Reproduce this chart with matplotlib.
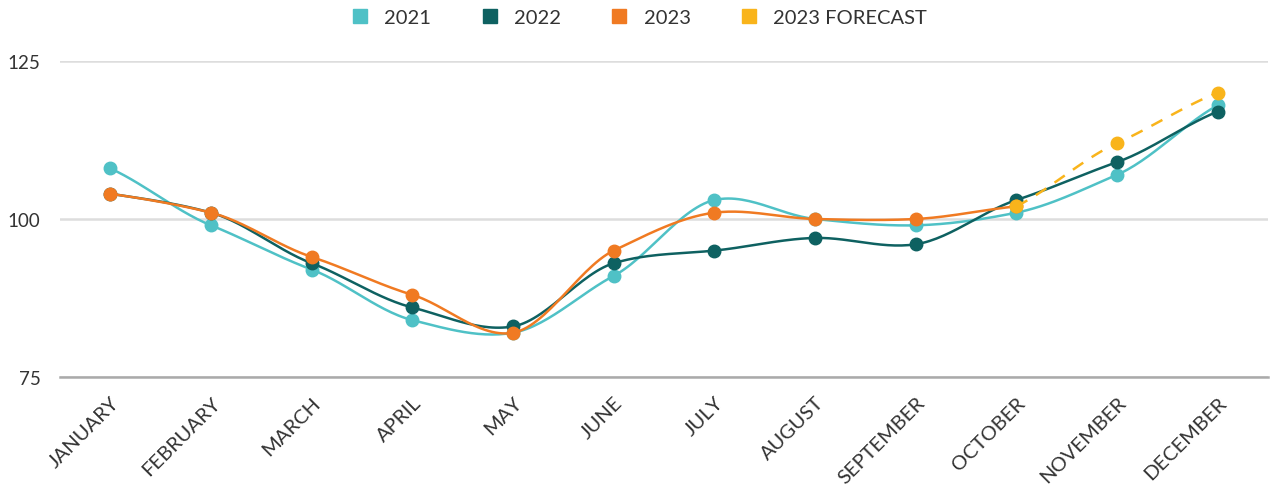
import numpy as np
import matplotlib.pyplot as plt
from matplotlib.lines import Line2D

months = ['JANUARY', 'FEBRUARY', 'MARCH', 'APRIL', 'MAY', 'JUNE', 'JULY',
          'AUGUST', 'SEPTEMBER', 'OCTOBER', 'NOVEMBER', 'DECEMBER']
y2021 = [108, 99, 92, 84, 82, 91, 103, 100, 99, 101, 107, 118]
y2022 = [104, 101, 93, 86, 83, 93, 95, 97, 96, 103, 109, 117]
y2023 = [104, 101, 94, 88, 82, 95, 101, 100, 100, 102]
forecast_months = ['OCTOBER', 'NOVEMBER', 'DECEMBER']
y2023_forecast = [102, 112, 120]
yticks = [75, 100, 125]

c2021 = '#4fc1c6'
c2022 = '#0e6161'
c2023 = '#f07a22'
cfore = '#f9b41b'


def smooth(x, y, n=30, t=0.8):
    # cardinal spline through points
    x = np.asarray(x, float)
    y = np.asarray(y, float)
    m = np.zeros_like(y)
    m[1:-1] = (y[2:] - y[:-2]) / (x[2:] - x[:-2]) * t
    m[0] = (y[1] - y[0]) / (x[1] - x[0]) * t
    m[-1] = (y[-1] - y[-2]) / (x[-1] - x[-2]) * t
    xs, ys = [], []
    for i in range(len(x) - 1):
        h = x[i + 1] - x[i]
        s = np.linspace(0, 1, n)
        h00 = 2 * s**3 - 3 * s**2 + 1
        h10 = s**3 - 2 * s**2 + s
        h01 = -2 * s**3 + 3 * s**2
        h11 = s**3 - s**2
        xs.append(x[i] + s * h)
        ys.append(h00 * y[i] + h10 * h * m[i] + h01 * y[i + 1] + h11 * h * m[i + 1])
    return np.concatenate(xs), np.concatenate(ys)


plt.rcParams['font.family'] = ['Lato', 'DejaVu Sans']

fig = plt.figure(figsize=(12.72, 4.89), dpi=100)
ax = fig.add_axes([60 / 1272, 111 / 489, 1208 / 1272, 316 / 489])

x = np.arange(len(months))
series = [(y2021, c2021, 3), (y2022, c2022, 4), (y2023, c2023, 5)]
for vals, col, z in series:
    xi = x[:len(vals)]
    sx, sy = smooth(xi, vals)
    ax.plot(sx, sy, color=col, lw=1.8, zorder=z)
    ax.plot(xi, vals, 'o', color=col, ms=9, zorder=z)

fx = [months.index(m) for m in forecast_months]
sx, sy = smooth(fx, y2023_forecast)
ax.plot(sx, sy, color=cfore, lw=1.8, ls=(0, (5, 4)), zorder=6)
ax.plot(fx, y2023_forecast, 'o', color=cfore, ms=9, zorder=6)

ax.set_xlim(-0.5, len(months) - 0.5)
ax.set_ylim(75, 125)
ax.set_yticks(yticks)
ax.set_xticks(x)
ax.set_xticklabels(months, rotation=45, ha='right', rotation_mode='anchor')
ax.tick_params(axis='both', length=0, labelcolor='#333333')
ax.tick_params(axis='x', pad=12, labelsize=14.5)
ax.tick_params(axis='y', pad=14, labelsize=13.5)
ax.grid(axis='y', color='#dddddd', lw=1.8)
ax.set_axisbelow(True)
for s in ['top', 'right', 'left']:
    ax.spines[s].set_visible(False)
ax.spines['bottom'].set_color('#aaaaaa')
ax.spines['bottom'].set_linewidth(1.8)

handles = [Line2D([], [], ls='none', marker='s', ms=10, color=c)
           for c in [c2021, c2022, c2023, cfore]]
fig.legend(handles, ['2021', '2022', '2023', '2023 FORECAST'], loc='center',
           bbox_to_anchor=(0.502, 1 - 18 / 489), ncol=4, frameon=False,
           fontsize=14.5, handlelength=1.0, handletextpad=0.7,
           columnspacing=2.4, labelcolor='#333333')

fig.savefig('out.png', dpi=100)
